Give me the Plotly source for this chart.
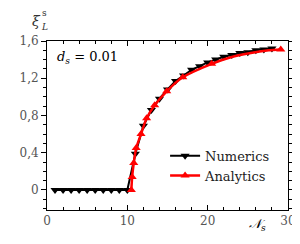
import plotly.graph_objects as go

# Numerics (black, down-triangles)
num_x = [1, 2, 3, 4, 5, 6, 7, 8, 9, 10, 11, 12, 13, 14, 15, 16, 17, 18, 19, 20,
         21, 22, 23, 24, 25, 26, 27, 28]
num_y = [0, 0, 0, 0, 0, 0, 0, 0, 0, 0, 0.39, 0.69, 0.86, 0.98, 1.08, 1.17, 1.23, 1.29,
         1.33, 1.37, 1.40, 1.43, 1.45, 1.47, 1.48, 1.50, 1.51, 1.52]

# Analytics markers (red, up-triangles)
ana_x = [10.5, 10.6, 10.8, 11.1, 11.7, 12.4, 13.4, 14.9, 16.9, 20.5, 29.1]
ana_y = [0.0, 0.14, 0.29, 0.45, 0.60, 0.77, 0.91, 1.06, 1.21, 1.355, 1.51]

# Analytics curve (red line)
curve_x = [10.5, 10.6, 10.8, 11.1, 11.7, 12.4, 13.4, 14.9, 16.9, 20.5, 22.9, 25.2, 27.6, 29.1]
curve_y = [0.0, 0.14, 0.29, 0.45, 0.60, 0.77, 0.91, 1.06, 1.21, 1.355, 1.425, 1.468, 1.50, 1.51]

y_tickvals = [0, 0.4, 0.8, 1.2, 1.6]
y_ticktext = ["0", "0,4", "0,8", "1,2", "1,6"]
x_tickvals = [0, 10, 20, 30]
x_ticktext = ["0", "10", "20", "30"]

FONT = "DejaVu Serif, serif"
GRAY = "#555555"
RED = "#ff0000"

fig = go.Figure()
fig.add_trace(go.Scatter(
    x=num_x, y=num_y, name="Numerics", mode="lines+markers",
    line=dict(color="black", width=2),
    marker=dict(symbol="triangle-down", size=8, color="black"),
))
fig.add_trace(go.Scatter(
    x=curve_x, y=curve_y, mode="lines", showlegend=False, hoverinfo="skip",
    line=dict(color=RED, width=2.5, shape="spline", smoothing=0.6),
))
fig.add_trace(go.Scatter(
    x=ana_x, y=ana_y, mode="markers", showlegend=False,
    marker=dict(symbol="triangle-up", size=8, color=RED),
))
fig.add_trace(go.Scatter(
    x=[None], y=[None], name="Analytics", mode="lines+markers",
    line=dict(color=RED, width=2.5),
    marker=dict(symbol="triangle-up", size=8, color=RED),
))

fig.update_layout(
    width=300, height=244,
    margin=dict(l=34, r=12, t=33, b=42),
    plot_bgcolor="white", paper_bgcolor="white",
    font=dict(family=FONT, size=12, color="black"),
    showlegend=True,
    legend=dict(x=0.49, y=0.41, xanchor="left", yanchor="top",
                bgcolor="rgba(0,0,0,0)", font=dict(family=FONT, size=13, color="#222"),
                itemwidth=30, tracegroupgap=0),
    xaxis=dict(range=[0, 30], showgrid=False, zeroline=False,
               showline=True, linecolor="black", linewidth=1, mirror="ticks",
               ticks="inside", ticklen=5, tickcolor="black",
               tickvals=x_tickvals, ticktext=x_ticktext,
               tickfont=dict(family=FONT, size=12, color=GRAY),
               minor=dict(dtick=2, tick0=0, ticks="inside", ticklen=3, tickcolor="black")),
    yaxis=dict(range=[-0.215, 1.6], showgrid=False, zeroline=False,
               showline=True, linecolor="black", linewidth=1, mirror="ticks",
               ticks="outside", ticklen=5, tickcolor="black",
               tickvals=y_tickvals, ticktext=y_ticktext,
               tickfont=dict(family=FONT, size=12, color=GRAY),
               minor=dict(dtick=0.1, tick0=0, ticks="outside", ticklen=3, tickcolor="black")),
)

fig.add_annotation(x=0.035, y=0.905, xref="paper", yref="paper",
                   text="<i>d<sub>s</sub></i> = 0.01", showarrow=False,
                   xanchor="left", yanchor="middle",
                   font=dict(family=FONT, size=13, color="black"))
fig.add_annotation(x=-0.045, y=1.12, xref="paper", yref="paper",
                   text="<i>ξ</i>", showarrow=False, xanchor="center", yanchor="middle",
                   font=dict(family=FONT, size=14, color="#333"))
fig.add_annotation(x=-0.01, y=1.165, xref="paper", yref="paper",
                   text="s", showarrow=False, xanchor="center", yanchor="middle",
                   font=dict(family=FONT, size=9, color="#333"))
fig.add_annotation(x=-0.01, y=1.085, xref="paper", yref="paper",
                   text="<i>L</i>", showarrow=False, xanchor="center", yanchor="middle",
                   font=dict(family=FONT, size=9, color="#333"))
fig.add_annotation(x=0.875, y=-0.085, xref="paper", yref="paper",
                   text="<i>𝒩<sub>s</sub></i>", showarrow=False, xanchor="center", yanchor="middle",
                   font=dict(family=FONT, size=13, color="black"))

fig.write_html("out.html")
